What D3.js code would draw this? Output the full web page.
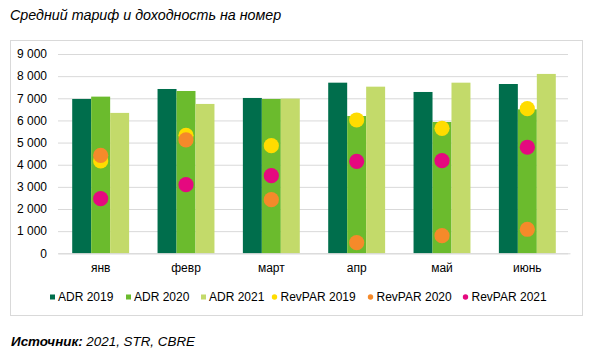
<!DOCTYPE html>
<html><head><meta charset="utf-8">
<script src="https://cdn.jsdelivr.net/npm/d3@7"></script>
<style>body{margin:0;background:#fff}svg{display:block;font-family:"Liberation Sans",Arial,sans-serif}</style>
</head><body><svg id="c" width="600" height="356"></svg>
<script>
const months = ["янв","февр","март","апр","май","июнь"];
const adr2019 = [6970, 7420, 7015, 7705, 7285, 7645];
const adr2020 = [7075, 7330, 6970, 6200, 5930, 6500];
const adr2021 = [6340, 6745, 6985, 7525, 7705, 8100];
const revpar2019 = [4170, 5330, 4860, 6020, 5645, 6530];
const revpar2020 = [4425, 5120, 2420, 480, 795, 1085];
const revpar2021 = [2465, 3100, 3505, 4155, 4185, 4790];
const yTicks = [0,1000,2000,3000,4000,5000,6000,7000,8000,9000];

const barSeries = [
  {name:"ADR 2019", values:adr2019, color:"#006e4c"},
  {name:"ADR 2020", values:adr2020, color:"#6bbb2d"},
  {name:"ADR 2021", values:adr2021, color:"#c3da6a"}
];
const dotSeries = [
  {name:"RevPAR 2019", values:revpar2019, color:"#ffdc00"},
  {name:"RevPAR 2020", values:revpar2020, color:"#f58a2a"},
  {name:"RevPAR 2021", values:revpar2021, color:"#e5097f"}
];

const svg = d3.select("#c");
const x = d3.scaleBand().domain(months).range([58, 570]).paddingInner(0.333).paddingOuter(0.1665);
const y = d3.scaleLinear().domain([0, 9000]).range([253.3, 54]);
const xs = d3.scaleBand().domain([0,1,2]).range([0, x.bandwidth()]);

svg.append("text").attr("x", 10).attr("y", 20).attr("font-size", 14.3).attr("font-style","italic").attr("fill","#000")
  .text("Средний тариф и доходность на номер");

svg.append("rect").attr("x", 10.5).attr("y", 40.5).attr("width", 572).attr("height", 275)
  .attr("fill","none").attr("stroke","#d9d9d9");

const fmt = v => d3.format(",")(v).replace(/,/g, " ");
const yAxis = svg.append("g").attr("transform","translate(58,0)")
  .call(d3.axisLeft(y).tickValues(yTicks).tickSize(-510).tickFormat(fmt).tickPadding(11));
yAxis.select(".domain").remove();
yAxis.selectAll("line").attr("stroke","#d9d9d9");
yAxis.selectAll("text").attr("font-size",12).attr("fill","#000").attr("font-family","Liberation Sans, Arial, sans-serif");

barSeries.forEach((s, i) => {
  svg.append("g").selectAll("rect").data(s.values).join("rect")
    .attr("x", (d, j) => x(months[j]) + xs(i))
    .attr("width", xs.bandwidth())
    .attr("y", d => y(d))
    .attr("height", d => y(0) - y(d))
    .attr("fill", s.color);
});

const xAxis = svg.append("g").attr("transform", `translate(0,${y(0)})`)
  .call(d3.axisBottom(x).tickSize(0).tickPadding(10));
xAxis.select(".domain").attr("stroke","#d9d9d9");
xAxis.selectAll("text").attr("font-size",12).attr("fill","#000").attr("font-family","Liberation Sans, Arial, sans-serif");

dotSeries.forEach(s => {
  svg.append("g").selectAll("circle").data(s.values).join("circle")
    .attr("cx", (d, j) => x(months[j]) + xs(1) + xs.bandwidth()/2)
    .attr("cy", d => y(d))
    .attr("r", 7.6)
    .attr("fill", s.color);
});

// legend
const legendItems = [...barSeries.map(s => ({...s, type:"sq"})), ...dotSeries.map(s => ({...s, type:"dot"}))];
const legX = [50, 126, 201, 272, 368, 463];
const lg = svg.append("g");
legendItems.forEach((it, i) => {
  const g = lg.append("g").attr("transform", `translate(${legX[i]},297)`);
  if (it.type === "sq") g.append("rect").attr("x",0).attr("y",-2.5).attr("width",5).attr("height",5).attr("fill",it.color);
  else g.append("circle").attr("cx",2.5).attr("cy",0).attr("r",2.7).attr("fill",it.color);
  g.append("text").attr("x", it.type==="sq"?8:8.5).attr("y",4.3).attr("font-size",12).attr("fill","#000").text(it.name);
});

const src = svg.append("text").attr("x", 11).attr("y", 345.5).attr("font-size", 13.4).attr("font-style","italic").attr("fill","#000");
src.append("tspan").attr("font-weight","bold").text("Источник:");
src.append("tspan").text(" 2021, STR, CBRE");
</script></body></html>
